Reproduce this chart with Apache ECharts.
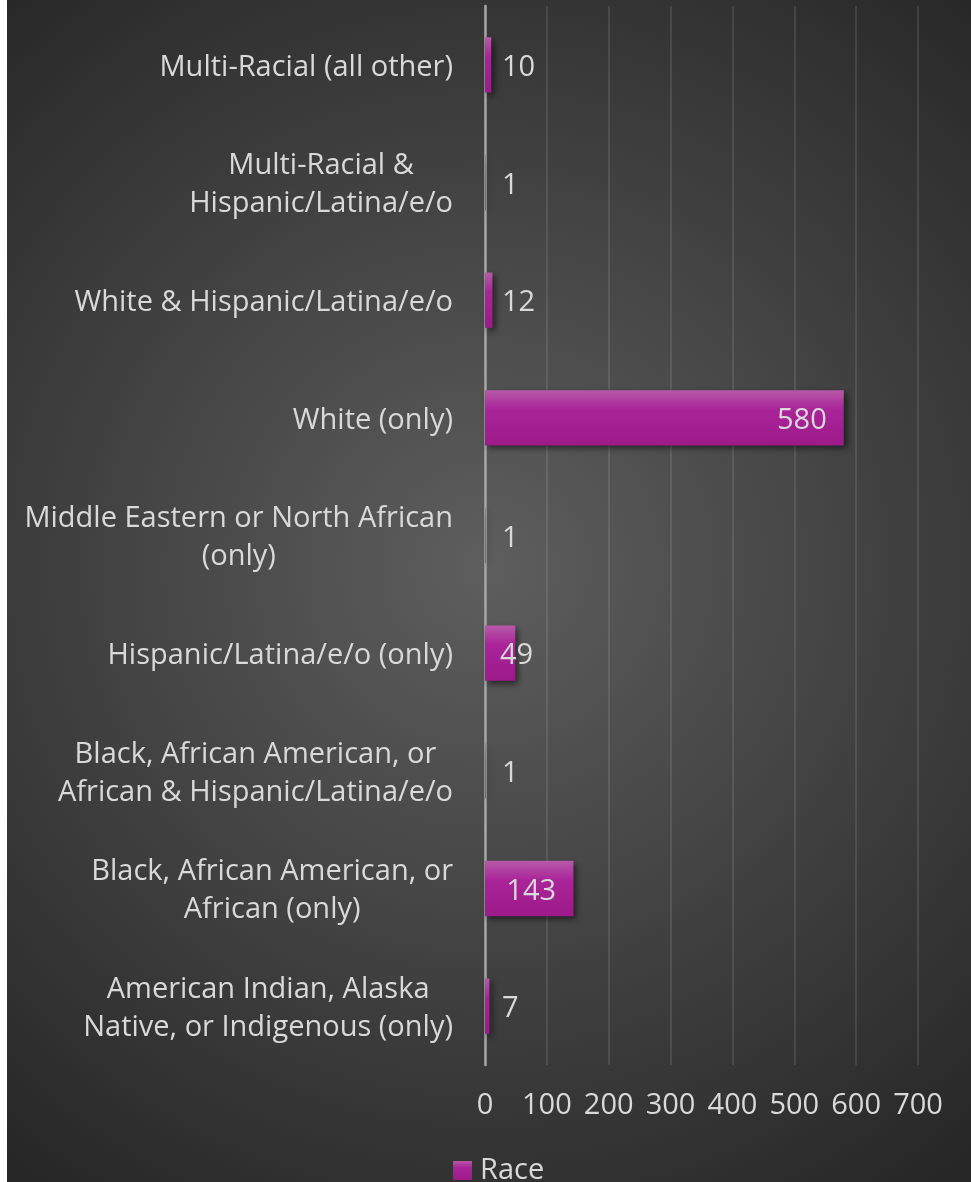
<!DOCTYPE html>
<html>
<head>
<meta charset="utf-8">
<script src="https://cdn.jsdelivr.net/npm/echarts@6/dist/echarts.min.js"></script>
<style>
  html, body { margin: 0; padding: 0; background: #ffffff; width: 971px; height: 1182px; overflow: hidden; }
  #chart { position: absolute; left: 7px; top: 0; width: 964px; height: 1182px; }
</style>
</head>
<body>
<div id="chart"></div>
<script>
// Categories, top to bottom as shown
const categories = [
  'Multi-Racial (all other)',
  'Multi-Racial &\nHispanic/Latina/e/o',
  'White & Hispanic/Latina/e/o',
  'White (only)',
  'Middle Eastern or North African\n(only)',
  'Hispanic/Latina/e/o (only)',
  'Black, African American, or\nAfrican & Hispanic/Latina/e/o',
  'Black, African American, or\nAfrican (only)',
  'American Indian, Alaska\nNative, or Indigenous (only)'
];
const raceValues = [10, 1, 12, 580, 1, 49, 1, 143, 7];
const seriesName = 'Race';
const xTicks = [0, 100, 200, 300, 400, 500, 600, 700];

const FONT = '"Open Sans", "Noto Sans", sans-serif';
const TXT = '#d9d9d9';

const chart = echarts.init(document.getElementById('chart'), null, { renderer: 'canvas' });

const barData = raceValues.map(v => {
  let label;
  if (v > 400) label = { position: 'insideRight', distance: 17 };
  else if (v > 100) label = { position: 'inside', offset: [2, 3] };
  else if (v > 30) label = { position: 'insideLeft', distance: 15 };
  else label = { position: 'insideLeft', distance: 17 };
  return { value: v, label: label };
});

chart.setOption({
  backgroundColor: {
    type: 'radial', x: 0.496, y: 0.48, r: 0.8,
    colorStops: [
      { offset: 0, color: '#5e5e5e' },
      { offset: 1, color: '#262626' }
    ]
  },
  textStyle: { fontFamily: FONT },
  animation: false,
  grid: { left: 478, right: 53, top: 6, bottom: 117, containLabel: false },
  legend: {
    data: [seriesName],
    left: 441,
    top: 1151,
    itemWidth: 19,
    itemHeight: 19,
    itemGap: 10,
    icon: 'rect',
    textStyle: { color: TXT, fontSize: 29, fontFamily: FONT, padding: [0, 0, 0, 3] }
  },
  xAxis: {
    type: 'value',
    min: xTicks[0],
    max: xTicks[xTicks.length - 1],
    interval: 100,
    axisLine: { show: false },
    axisTick: { show: false },
    axisLabel: { color: TXT, fontSize: 29, fontFamily: FONT, margin: 26 },
    splitLine: { show: true, lineStyle: { color: 'rgba(255,255,255,0.1)', width: 2 } }
  },
  yAxis: {
    type: 'category',
    data: categories,
    inverse: true,
    axisLine: { show: true, lineStyle: { color: '#a6a6a6', width: 2.5 } },
    axisTick: { show: false },
    axisLabel: {
      color: TXT, fontSize: 29, fontFamily: FONT, lineHeight: 38,
      margin: 32, align: 'right', padding: [5, 0, 0, 0],
      formatter: function (val) {
        return val.split('\n').map(function (l) { return '{c|' + l + '}'; }).join('\n');
      },
      rich: {
        c: { align: 'center', color: TXT, fontSize: 29, fontFamily: FONT, lineHeight: 38 }
      }
    },
    splitLine: { show: false }
  },
  series: [{
    name: seriesName,
    type: 'bar',
    data: barData,
    barWidth: '47%',
    itemStyle: {
      color: {
        type: 'linear', x: 0, y: 0, x2: 0, y2: 1,
        colorStops: [
          { offset: 0, color: '#b65aa8' },
          { offset: 0.35, color: '#aa2499' },
          { offset: 1, color: '#9d1a89' }
        ]
      },
      shadowColor: 'rgba(0,0,0,0.55)',
      shadowBlur: 6,
      shadowOffsetX: 3,
      shadowOffsetY: 3
    },
    label: {
      show: true,
      color: TXT,
      fontSize: 29,
      fontFamily: FONT,
      offset: [0, 3]
    }
  }]
});
</script>
</body>
</html>
